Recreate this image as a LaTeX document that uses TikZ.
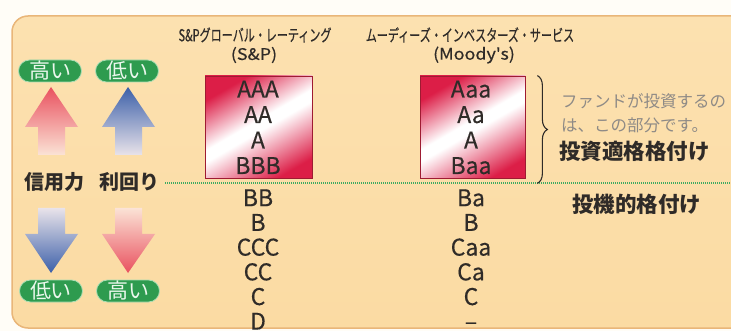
\documentclass[tikz,border=0pt]{standalone}
\usepackage{fontspec}
\setmainfont{Noto Sans CJK JP}
\newfontfamily\condfont[FakeStretch=0.67,FakeBold=0.3]{Noto Sans CJK JP}
\newfontfamily\widefont[FakeStretch=1.12,FakeBold=0.3]{Noto Sans CJK JP}
\newfontfamily\gradefont[FakeBold=0.4]{Noto Sans CJK JP}
\usepackage{tikz}
\usetikzlibrary{decorations.pathreplacing}

\definecolor{outerbg}{HTML}{FFFDF7}
\definecolor{panelA}{HTML}{FCE1B0}
\definecolor{panelB}{HTML}{FFF3DE}
\definecolor{panelC}{HTML}{FBDBA3}
\definecolor{panelline}{HTML}{E9B679}
\definecolor{badgegreen}{HTML}{2E9B4F}
\definecolor{badgeline}{HTML}{A9DDB3}
\definecolor{badgetext}{HTML}{EAF7EC}
\definecolor{upred}{HTML}{E9515F}
\definecolor{fadered}{HTML}{FBE3D6}
\definecolor{upblue}{HTML}{3C60A9}
\definecolor{fadeblue}{HTML}{E9E3EA}
\definecolor{gradered}{HTML}{DC1E47}
\definecolor{gradeline}{HTML}{9E1B32}
\definecolor{ink}{HTML}{2F2B28}
\definecolor{notegray}{HTML}{8E8A86}
\definecolor{sepgreen}{HTML}{3DAA62}

\pgfdeclarehorizontalshading{gradeshade}{100bp}{color(0bp)=(gradered); color(24bp)=(gradered);
  color(48bp)=(white); color(53bp)=(white); color(74bp)=(gradered); color(100bp)=(gradered)}

\tikzset{
  badge/.style={fill=badgegreen, draw=badgeline, line width=0.8pt, rounded corners=11pt,
    minimum width=63pt, minimum height=22pt, inner sep=0pt, text=badgetext,
    font=\fontsize{21}{22}\selectfont},
  axislbl/.style={text=ink, inner sep=0pt, font=\bfseries\fontsize{20}{21}\selectfont},
  hdr/.style={text=ink, inner sep=0pt, font=\condfont\fontsize{16.5}{17}\selectfont},
  hdrshort/.style={text=ink, inner sep=0pt, font=\widefont\fontsize{16}{17}\selectfont},
  gradebox/.style={shading=gradeshade, shading angle=120, draw=gradeline, line width=0.8pt,
    inner sep=0pt},
  grade/.style={text=ink, inner sep=0pt, anchor=base, font=\gradefont\fontsize{23}{25}\selectfont},
  note/.style={text=notegray, inner sep=0pt, anchor=west, font=\fontsize{16.5}{18}\selectfont},
  tag/.style={text=ink, inner sep=0pt, anchor=west, font=\bfseries\fontsize{21.5}{23}\selectfont},
  sepline/.style={sepgreen, line width=1.2pt, dash pattern=on 1pt off 1pt}
}

\begin{document}
\begin{tikzpicture}[x=1pt,y=-1pt]
  % Panel
  \useasboundingbox (0,0) rectangle (731,331);
  \fill[outerbg] (0,0) rectangle (731,331);
  \shadedraw[top color=panelA, middle color=panelB, bottom color=panelC,
    draw=panelline, line width=1.5pt, rounded corners=16pt] (12,16) rectangle (770,328);

  % Badges
  \node[badge] (hiA) at (50,71) {高い};
  \node[badge] (loA) at (127,71) {低い};
  \node[badge] (loB) at (51,291) {低い};
  \node[badge] (hiB) at (128,291) {高い};

  % Up arrows
  \shade[top color=upred, bottom color=fadered]
    (51,87) -- (78,127) -- (65,127) -- (65,155) -- (38,155) -- (38,127) -- (25,127) -- cycle;
  \shade[top color=upblue, bottom color=fadeblue]
    (128,87) -- (155,127) -- (142,127) -- (142,155) -- (115,155) -- (115,127) -- (102,127) -- cycle;

  % Down arrows
  \shade[top color=fadeblue, bottom color=upblue]
    (38,208) -- (65,208) -- (65,234) -- (78,234) -- (51,273) -- (25,234) -- (38,234) -- cycle;
  \shade[top color=fadered, bottom color=upred]
    (115,208) -- (142,208) -- (142,234) -- (155,234) -- (128,273) -- (102,234) -- (115,234) -- cycle;

  % Axis labels
  \node[axislbl] (credit) at (54,182) {信用力};
  \node[axislbl] (yield) at (129,182) {利回り};

  % Divider between the two grade bands
  \coordinate (sepL) at (165,183);
  \coordinate (sepR) at (731,183);
  \draw[sepline] (sepL) -- (sepR);

  % Agency headers
  \node[hdr] (sphead) at (255,35) {S\&Pグローバル・レーティング};
  \node[hdrshort] (spshort) at (254,55) {(S\&P)};
  \node[hdr] (mdhead) at (470,35) {ムーディーズ・インベスターズ・サービス};
  \node[hdrshort] (mdshort) at (474,55) {(Moody's)};

  % Investment grade boxes
  \node[gradebox, minimum width=107pt, minimum height=102pt] (spbox) at (258.5,127) {};
  \node[gradebox, minimum width=105pt, minimum height=102pt] (mdbox) at (472.5,127) {};

  % S&P scale
  \foreach \g [count=\i] in {AAA,AA,A,BBB}
    \node[grade] (sp\i) at (258,72+25.5*\i) {\g};
  \foreach \g [count=\i] in {BB,B,CCC,CC,C,D}
    \node[grade] (spx\i) at (258,181.5+24.7*\i) {\g};

  % Moody's scale
  \foreach \g [count=\i] in {Aaa,Aa,A,Baa}
    \node[grade] (md\i) at (471,72+25.5*\i) {\g};
  \foreach \g [count=\i] in {Ba,B,Caa,Ca,C,–}
    \node[grade] (mdx\i) at (471,181.5+24.7*\i) {\g};

  % Brace and notes
  \draw[ink, line width=1.1pt, decorate, decoration={brace, amplitude=10pt}]
    ([xshift=12pt]mdbox.north east) -- ([xshift=12pt,yshift=-5pt]mdbox.south east);
  \node[note] (fundA) at (561,101) {ファンドが投資するの};
  \node[note] (fundB) at (561,125) {は、この部分です。};
  \node[tag] (invgrade) at (559,151) {投資適格格付け};
  \node[tag] (specgrade) at (572,204) {投機的格付け};
\end{tikzpicture}
\end{document}
